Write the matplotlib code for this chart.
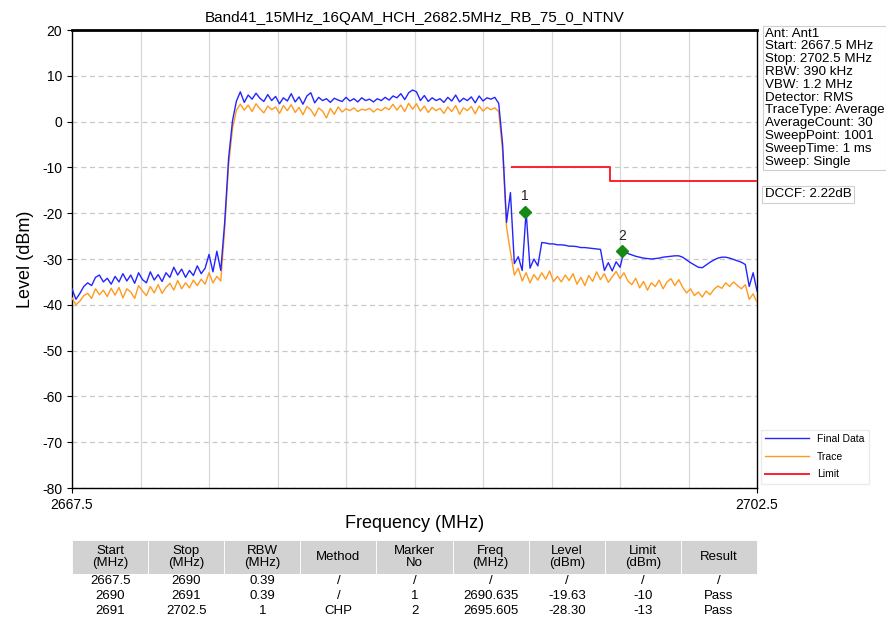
import numpy as np
import matplotlib
matplotlib.use('Agg')
import matplotlib.pyplot as plt

plt.rcParams['font.family'] = ['Liberation Sans', 'DejaVu Sans']
plt.rcParams['axes.unicode_minus'] = False

title = 'Band41_15MHz_16QAM_HCH_2682.5MHz_RB_75_0_NTNV'
f_start, f_stop = 2667.5, 2702.5
freq = np.linspace(f_start, f_stop, 176)   # 0.2 MHz sweep grid

final_data = [
    -36.5, -38.8, -37.5, -36.0, -35.2, -35.8, -34.0, -33.5, -35.0, -34.2,
    -35.5, -33.8, -35.0, -33.2, -34.8, -33.5, -35.3, -33.0, -34.5, -35.2,
    -32.8, -34.6, -33.4, -34.9, -33.0, -34.0, -31.8, -33.5, -32.2, -34.0,
    -32.5, -33.6, -31.5, -33.2, -32.0, -29.0, -32.8, -28.3, -32.5, -22.0,
    -8.0, 0.2, 4.5, 6.5, 4.2, 5.8, 4.9, 6.2, 5.1, 4.4,
    5.9, 4.6, 5.5, 3.9, 5.2, 4.5, 6.1, 4.3, 5.4, 3.8,
    5.6, 6.3, 4.1, 5.3, 4.6, 5.0, 4.2, 5.1, 4.7, 4.4,
    5.3, 4.5, 5.0, 4.3, 5.2, 4.6, 4.9, 4.3, 5.0, 4.6,
    5.3, 4.7, 5.6, 5.2, 6.1, 4.8, 6.3, 6.9, 6.5, 4.6,
    5.7, 4.4, 5.2, 4.6, 5.0, 4.2, 5.3, 4.5, 5.8, 4.3,
    5.1, 4.6, 5.4, 4.1, 5.6, 4.5, 5.2, 4.9, 5.3, 4.0,
    -5.0, -22.0, -15.5, -31.0, -29.5, -32.5, -19.63, -32.0, -30.0, -31.5,
    -26.4, -26.5, -26.7, -26.7, -26.9, -26.9, -27.0, -27.2, -27.2, -27.3,
    -27.5, -27.5, -27.6, -27.7, -27.8, -27.9, -32.5, -30.8, -32.6, -30.6,
    -31.8, -28.3, -28.8, -29.1, -29.4, -29.6, -29.8, -29.9, -30.0, -29.9,
    -29.8, -29.6, -29.5, -29.4, -29.3, -29.3, -29.6, -30.2, -30.8, -31.3,
    -31.8, -31.9, -31.3, -30.7, -30.2, -29.8, -29.6, -29.6, -29.8, -30.1,
    -30.4, -30.7, -31.2, -36.0, -33.0, -37.0,
]

trace = [
    -38.5, -40.0, -39.2, -38.0, -37.5, -38.6, -36.5, -37.8, -36.8, -38.2,
    -36.4, -37.9, -36.2, -38.5, -36.5, -37.2, -38.6, -35.8, -37.0, -38.0,
    -36.0, -37.4, -35.6, -37.5, -36.2, -35.3, -36.8, -34.7, -36.5, -35.2,
    -36.3, -34.6, -35.8, -34.4, -35.5, -33.0, -35.2, -33.8, -34.8, -23.5,
    -9.5, -1.5, 2.5, 3.8, 2.5, 3.6, 2.2, 3.9, 2.8, 1.9,
    3.4, 2.6, 3.2, 1.8, 3.5, 2.4, 3.7, 2.0, 3.1, 1.5,
    3.3, 2.6, 1.2, 3.0, 2.3, 0.8, 2.9, 1.6, 3.2, 2.1,
    2.8, 2.4, 3.0, 2.2, 2.7, 2.5, 2.9, 2.1, 2.8, 2.4,
    3.1, 2.6, 3.8, 2.5, 3.6, 2.2, 4.0, 2.7, 3.9, 2.3,
    3.4, 2.0, 3.1, 2.4, 2.9, 1.8, 3.2, 2.2, 3.5, 1.6,
    3.0, 2.4, 3.3, 1.7, 3.4, 2.3, 3.1, 2.6, 3.0, 2.2,
    -6.5, -23.0, -28.5, -33.5, -32.0, -34.8, -33.0, -35.2, -33.4, -34.6,
    -33.0, -34.4, -32.6, -34.9, -33.8, -35.0, -33.5, -34.7, -33.2, -35.5,
    -34.0, -35.8, -33.6, -34.9, -32.8, -34.5, -33.2, -35.1, -33.9, -32.7,
    -34.3, -33.0, -34.8, -35.6, -34.2, -36.3, -34.9, -36.8, -35.2, -36.0,
    -34.6, -36.5, -35.0, -34.3, -35.8, -34.5, -36.2, -37.4, -36.5, -38.0,
    -37.2, -38.3, -37.0, -37.8, -36.6, -35.9, -36.4, -35.2, -36.0, -35.0,
    -35.8, -36.5, -35.6, -38.8, -37.6, -39.5,
]

limit_freq = [2690.0, 2695.0, 2695.0, 2702.5]
limit_level = [-10, -10, -13, -13]

marker_no = ['1', '2']
marker_freq = [2690.635, 2695.605]
marker_level = [-19.63, -28.30]

settings = ['Ant: Ant1', 'Start: 2667.5 MHz', 'Stop: 2702.5 MHz', 'RBW: 390 kHz',
            'VBW: 1.2 MHz', 'Detector: RMS', 'TraceType: Average',
            'AverageCount: 30', 'SweepPoint: 1001', 'SweepTime: 1 ms',
            'Sweep: Single']
dccf = 'DCCF: 2.22dB'

col_labels = ['Start\n(MHz)', 'Stop\n(MHz)', 'RBW\n(MHz)', 'Method', 'Marker\nNo',
              'Freq\n(MHz)', 'Level\n(dBm)', 'Limit\n(dBm)', 'Result']
rows = [
    ['2667.5', '2690', '0.39', '/', '/', '/', '/', '/', '/'],
    ['2690', '2691', '0.39', '/', '1', '2690.635', '-19.63', '-10', 'Pass'],
    ['2691', '2702.5', '1', 'CHP', '2', '2695.605', '-28.30', '-13', 'Pass'],
]

fig = plt.figure(figsize=(8.87, 6.28), dpi=100)
ax = fig.add_axes([0.0812, 0.2229, 0.7723, 0.7293])

ax.plot(freq, final_data, color='#2424ff', lw=1.0, label='Final Data', zorder=4)
ax.plot(freq, trace, color='#ff9a1f', lw=1.0, label='Trace', zorder=3)
ax.plot(limit_freq, limit_level, color='#ff1f2f', lw=1.4, label='Limit', zorder=3)

ax.plot(marker_freq, marker_level, 'D', color='#148a14', ms=6, zorder=5)
for n, mf, ml in zip(marker_no, marker_freq, marker_level):
    ax.annotate(n, (mf, ml), xytext=(0, 6), textcoords='offset points',
                ha='center', va='bottom', fontsize=10, color='#222222')

ax.set_xlim(f_start, f_stop)
ax.set_ylim(-80, 20)
ax.set_yticks(np.arange(-80, 21, 10))
ax.set_xticks([f_start, f_stop])
ax.set_xticks(np.arange(f_start, f_stop + 0.1, 3.5), minor=True)
ax.tick_params(axis='x', which='minor', length=0)
ax.tick_params(labelsize=10)
ax.grid(axis='x', which='minor', color='#d8d8d8', lw=0.9)
ax.grid(axis='y', which='major', color='#c8c8c8', lw=0.9, ls=(0, (4, 3)))
ax.set_axisbelow(True)
for s in ax.spines.values():
    s.set_linewidth(1.0)
ax.spines['top'].set_linewidth(2.0)

ax.set_title(title, fontsize=11, pad=6)
ax.set_xlabel('Frequency (MHz)', fontsize=13, labelpad=2)
ax.set_ylabel('Level (dBm)', fontsize=13, labelpad=6)

# sweep settings and DCCF boxes at the right of the plot
fig.text(0.862, 0.956, '\n'.join(settings), fontsize=9.6, va='top', ha='left',
         linespacing=1.09,
         bbox=dict(boxstyle='square,pad=0.15', fc='white', ec='#cfcfcf', lw=0.8))
fig.text(0.862, 0.700, dccf, fontsize=9.6, va='top', ha='left',
         bbox=dict(boxstyle='square,pad=0.2', fc='white', ec='#cfcfcf', lw=0.8))

ax.legend(loc='lower left', bbox_to_anchor=(0.858, 0.23),
          bbox_transform=fig.transFigure, fontsize=7.5, frameon=True,
          edgecolor='#e6e6e6', fancybox=False, handlelength=4.2,
          labelspacing=0.75, borderaxespad=0)

tax = fig.add_axes([0.0812, 0.016, 0.7723, 0.124])
tax.axis('off')
tbl = tax.table(cellText=rows, colLabels=col_labels, cellLoc='center',
                bbox=[0, 0, 1, 1])
tbl.auto_set_font_size(False)
for (r, c), cell in tbl.get_celld().items():
    cell.set_edgecolor('white')
    cell.set_linewidth(0.6)
    cell.get_text().set_fontsize(9.5)
    if r == 0:
        cell.set_facecolor('#d2d2d2')
        cell.set_height(2.3)
        cell.get_text().set_linespacing(0.9)
    else:
        cell.set_facecolor('white')
        cell.set_height(1.0)

fig.savefig('out.png', dpi=100)
